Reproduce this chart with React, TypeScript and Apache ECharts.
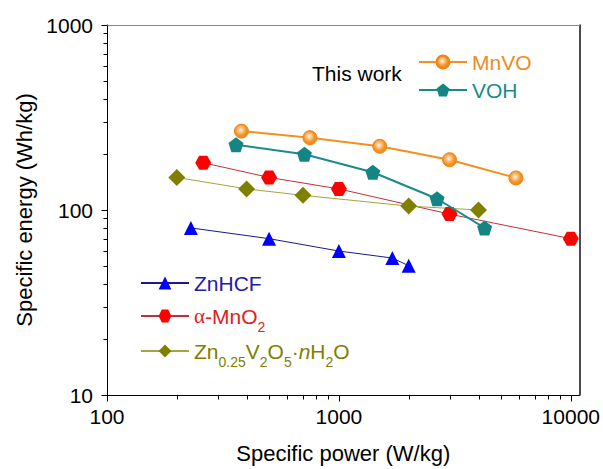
import React, { useEffect, useRef } from "react";
import * as echarts from "echarts";

// ---- data ----
const mnvoData: [number, number][] = [[380, 267], [750, 246], [1500, 221], [3000, 187], [5800, 149]];
const vohData: [number, number][] = [[360, 225], [710, 200], [1400, 160], [2650, 115], [4250, 80]];
const mno2Data: [number, number][] = [[260, 180], [500, 150], [1000, 130], [3000, 95], [10000, 70]];
const znvoData: [number, number][] = [[200, 150], [400, 130], [700, 120], [2000, 105], [4000, 100]];
const znhcfData: [number, number][] = [[230, 80], [500, 70], [1000, 60], [1700, 55], [2000, 50]];

const xMajorTicks = [100, 1000, 10000];
const xMinorTicks = [200, 300, 400, 500, 600, 700, 800, 900, 2000, 3000, 4000, 5000, 6000, 7000, 8000, 9000];
const yMajorTicks = [10, 100, 1000];
const yMinorTicks = [20, 30, 40, 50, 60, 70, 80, 90, 200, 300, 400, 500, 600, 700, 800, 900];

const FONT = "'Liberation Sans', Arial, sans-serif";

const PENTAGON = "path://M0,-1 L0.951,-0.309 L0.588,0.809 L-0.588,0.809 L-0.951,-0.309 Z";
const HEXAGON = "path://M-1,0 L-0.5,-0.866 L0.5,-0.866 L1,0 L0.5,0.866 L-0.5,0.866 Z";

const NAME_MNVO = "MnVO";
const NAME_VOH = "VOH";
const NAME_ZNHCF = "ZnHCF";
const NAME_MNO2 = "α-MnO2";
const NAME_ZNVO = "Zn0.25V2O5·nH2O";

function richFor(color: string) {
  return {
    m: { fontSize: 21, lineHeight: 24, color, fontFamily: FONT, fontWeight: "normal" },
    gr: { fontSize: 21, lineHeight: 24, color, fontFamily: "'Liberation Serif', serif", fontWeight: "normal" },
    it: { fontSize: 21, lineHeight: 24, color, fontFamily: FONT, fontStyle: "italic", fontWeight: "normal" },
    s: { fontSize: 14, lineHeight: 24, color, fontFamily: FONT, fontWeight: "normal", padding: [22, 0, 0, 0] },
  };
}

function legendLabel(name: string): string {
  if (name === NAME_MNO2) return "{gr|α}{m|-MnO}{s|2}";
  if (name === NAME_ZNVO) return "{m|Zn}{s|0.25}{m|V}{s|2}{m|O}{s|5}{m|·}{it|n}{m|H}{s|2}{m|O}";
  return "{m|" + name + "}";
}

function makeLegend(name: string, color: string, left: number, top: number) {
  return {
    data: [name],
    orient: "vertical",
    left,
    top,
    padding: 0,
    itemWidth: 48,
    itemHeight: 16,
    itemGap: 0,
    selectedMode: false,
    formatter: legendLabel,
    textStyle: { color, fontSize: 21, fontFamily: FONT, fontWeight: "normal", lineHeight: 24, rich: richFor(color) },
  };
}

function tickSeries(values: number[], isX: boolean, len: number) {
  return {
    type: "custom",
    silent: true,
    clip: false,
    z: 10,
    data: values.map((v) => (isX ? [v, 10] : [100, v])),
    renderItem: (params: any, api: any) => {
      const p = api.coord([api.value(0), api.value(1)]);
      const x = Math.round(p[0]) + 0.5;
      const y = Math.round(p[1]) + 0.5;
      return {
        type: "line",
        shape: isX ? { x1: x, y1: y, x2: x, y2: y + len } : { x1: x, y1: y, x2: x - len, y2: y },
        style: { stroke: "#000", lineWidth: 1 },
      };
    },
  };
}

const labelStyle = {
  fontSize: 21,
  color: "#000",
  fontFamily: FONT,
  fontWeight: "normal",
  textBorderWidth: 0,
  textShadowBlur: 0,
};

export default function App() {
  const ref = useRef<HTMLDivElement>(null);
  useEffect(() => {
    document.body.style.margin = "0";
    const chart = echarts.init(ref.current!, null, { renderer: "svg" });
    const option: any = {
      animation: false,
      backgroundColor: "#fff",
      title: {
        text: "This work",
        left: 312,
        top: 61,
        padding: 0,
        textStyle: { fontSize: 21, fontWeight: "normal", color: "#000", fontFamily: FONT, lineHeight: 24 },
      },
      legend: [
        makeLegend(NAME_MNVO, "#f08a24", 418, 50),
        makeLegend(NAME_VOH, "#1b8a8a", 418, 78),
        makeLegend(NAME_ZNHCF, "#2020a8", 140, 271),
        makeLegend(NAME_MNO2, "#e0201c", 140, 298),
        makeLegend(NAME_ZNVO, "#808000", 140, 333),
      ],
      grid: { left: 107, right: 22, top: 25, bottom: 71, containLabel: false },
      xAxis: [
        {
          type: "log",
          logBase: 10,
          min: 100,
          max: 10900,
          name: "Specific power (W/kg)",
          nameLocation: "middle",
          nameGap: 47,
          nameTextStyle: { ...labelStyle, fontSize: 22 },
          axisLine: { show: true, lineStyle: { color: "#000", width: 1 } },
          axisTick: { show: false },
          splitLine: { show: false },
          minorTick: { show: false },
          axisLabel: {
            margin: 11,
            ...labelStyle,
            formatter: (v: number) => (xMajorTicks.some((t) => Math.abs(t - v) < 1e-6) ? String(Math.round(v)) : ""),
          },
        },
        {
          type: "value",
          position: "top",
          min: 0,
          max: 1,
          axisLine: { show: true, lineStyle: { color: "#8a8a8a", width: 1 } },
          axisTick: { show: false },
          axisLabel: { show: false },
          splitLine: { show: false },
        },
      ],
      yAxis: [
        {
          type: "log",
          logBase: 10,
          min: 10,
          max: 1000,
          name: "Specific energy (Wh/kg)",
          nameLocation: "middle",
          nameGap: 70,
          nameTextStyle: { ...labelStyle, fontSize: 22 },
          axisLine: { show: true, lineStyle: { color: "#000", width: 1 } },
          axisTick: { show: false },
          splitLine: { show: false },
          minorTick: { show: false },
          axisLabel: {
            margin: 14,
            ...labelStyle,
            formatter: (v: number) => (yMajorTicks.some((t) => Math.abs(t - v) < 1e-6) ? String(Math.round(v)) : ""),
          },
        },
        {
          type: "value",
          position: "right",
          min: 0,
          max: 1,
          axisLine: { show: true, lineStyle: { color: "#111", width: 1.5 } },
          axisTick: { show: false },
          axisLabel: { show: false },
          splitLine: { show: false },
        },
      ],
      series: [
        {
          name: NAME_ZNHCF,
          type: "line",
          data: znhcfData,
          symbol: "triangle",
          symbolSize: 14,
          lineStyle: { color: "#1a1a8c", width: 1 },
          itemStyle: { color: "#0000ff" },
          z: 3,
        },
        {
          name: NAME_MNO2,
          type: "line",
          data: mno2Data,
          symbol: HEXAGON,
          symbolSize: [16, 14],
          lineStyle: { color: "#c0303a", width: 1 },
          itemStyle: { color: "#ff0000" },
          z: 3,
        },
        {
          name: NAME_ZNVO,
          type: "line",
          data: znvoData,
          symbol: "diamond",
          symbolSize: 17,
          lineStyle: { color: "#a4a440", width: 1 },
          itemStyle: { color: "#808000" },
          z: 3,
        },
        {
          name: NAME_VOH,
          type: "line",
          data: vohData,
          symbol: PENTAGON,
          symbolSize: 15,
          lineStyle: { color: "#1b8a8a", width: 2 },
          itemStyle: { color: "#148484" },
          z: 4,
        },
        {
          name: NAME_MNVO,
          type: "line",
          data: mnvoData,
          symbol: "circle",
          symbolSize: 14,
          lineStyle: { color: "#f39020", width: 2 },
          itemStyle: {
            color: {
              type: "radial",
              x: 0.45,
              y: 0.42,
              r: 0.55,
              colorStops: [
                { offset: 0, color: "#fff4e4" },
                { offset: 0.35, color: "#fbc282" },
                { offset: 0.7, color: "#f39426" },
                { offset: 1, color: "#f08a1c" },
              ],
            },
            borderColor: "#ee8616",
            borderWidth: 1,
          },
          z: 5,
        },
        tickSeries(xMajorTicks, true, 6),
        tickSeries(xMinorTicks, true, 4),
        tickSeries(yMajorTicks, false, 6),
        tickSeries(yMinorTicks, false, 4),
      ],
    };
    chart.setOption(option);
    return () => chart.dispose();
  }, []);
  return <div ref={ref} style={{ width: 603, height: 469 }} />;
}
